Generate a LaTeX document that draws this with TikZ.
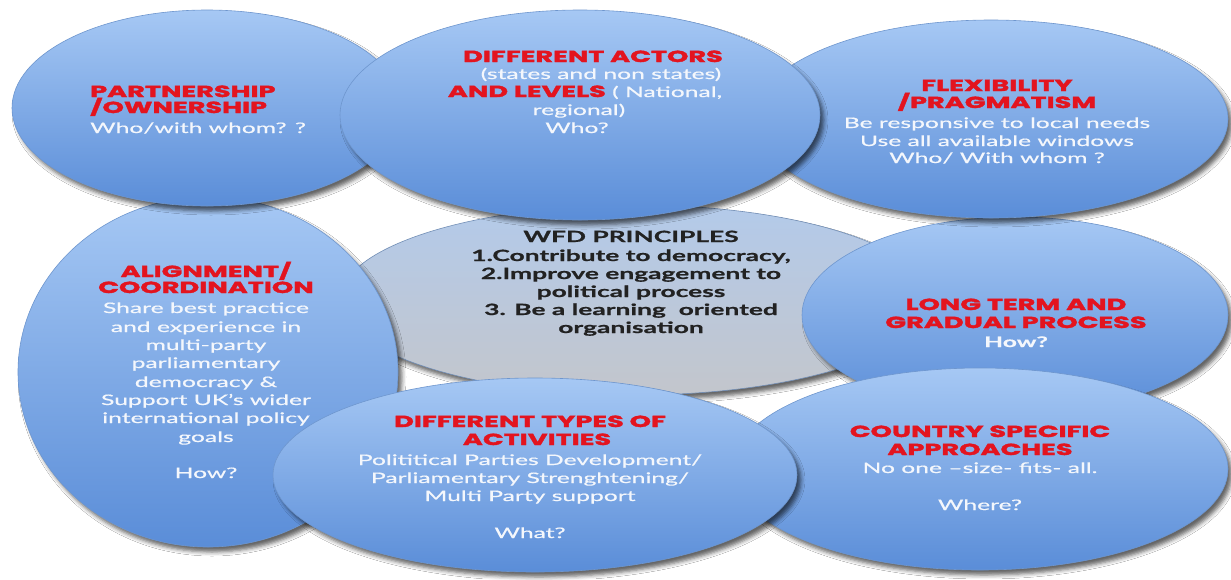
\documentclass[tikz,border=0pt]{standalone}
\usepackage{fontspec}
\usetikzlibrary{shapes.geometric,shadows.blur}
\newfontfamily\hdfont[FakeStretch=1.7,FakeBold=2.2]{Poppins}
\newfontfamily\bdfont[FakeStretch=1.7,FakeBold=0.6]{Lato}
\newfontfamily\wffont[FakeStretch=1.7,FakeBold=0.8]{Lato}
\definecolor{redt}{HTML}{E3141F}
\definecolor{whitet}{HTML}{F4F7FC}
\definecolor{darkt}{HTML}{222222}
\definecolor{elltop}{HTML}{A6C8F4}
\definecolor{ellbot}{HTML}{5A8DD8}
\definecolor{ellline}{HTML}{6E96CE}
\definecolor{wfdtop}{HTML}{B3CAEA}
\definecolor{wfdbot}{HTML}{C3C6CC}
\tikzset{
  bubble/.style={ellipse, inner sep=0pt, draw=ellline, line width=0.6pt,
    top color=elltop, bottom color=ellbot,
    blur shadow={shadow xshift=4pt, shadow yshift=-5pt, shadow blur radius=4pt, shadow opacity=60}},
  wfdbubble/.style={bubble, top color=wfdtop, bottom color=wfdbot, draw=ellline!70!gray},
  hd/.style={anchor=base, inner sep=0pt, text=redt, font=\hdfont\bfseries\fontsize{16}{16}\selectfont},
  bd/.style={anchor=base, inner sep=0pt, text=whitet, font=\bdfont\fontsize{14.5}{16}\selectfont},
  bdb/.style={bd, font=\bdfont\bfseries\fontsize{14.5}{16}\selectfont},
  wf/.style={anchor=base, inner sep=0pt, text=darkt, font=\wffont\bfseries\fontsize{15.5}{16}\selectfont},
}
\newcommand\redin[1]{{\hdfont\bfseries\fontsize{16}{16}\selectfont\color{redt}#1}}
\begin{document}
\begin{tikzpicture}[x=1pt,y=-1pt]
\fill[white] (0,0) rectangle (1231,579);
\useasboundingbox (0,0) rectangle (1231,579);
% bubbles, back to front
\node[wfdbubble, minimum width=590pt, minimum height=190pt] (wfd) at (635,300) {};
\node[bubble, minimum width=426pt, minimum height=196pt] (long) at (1015,315) {};
\node[bubble, minimum width=496pt, minimum height=202pt] (country) at (980,469) {};
\node[bubble, minimum width=380pt, minimum height=350pt] (align) at (208,372) {};
\node[bubble, minimum width=524pt, minimum height=194pt] (types) at (535,475) {};
\node[bubble, minimum width=474pt, minimum height=198pt] (flex) at (991,119) {};
\node[bubble, minimum width=390pt, minimum height=196pt] (part) at (207,108) {};
\node[bubble, minimum width=480pt, minimum height=210pt] (actors) at (580,115) {};
% partnership
\node[hd, anchor=base west] (p1) at (90,97) {PARTNERSHIP};
\node[hd, anchor=base west] (p2) at (90,113) {/OWNERSHIP};
\node[bd, anchor=base west] (p3) at (90,133) {Who/with whom? ?};
% actors
\node[hd] (a1) at (593,62) {DIFFERENT ACTORS};
\node[bd] (a2) at (601,79) {(states and non states)};
\node[bd] (a3) at (585,97) {\redin{AND LEVELS} ( National,};
\node[bd] (a4) at (579,115) {regional)};
\node[bd] (a5) at (577,133) {Who?};
% flexibility
\node[hd] (f1) at (997,91) {FLEXIBILITY};
\node[hd] (f2) at (997,108) {/PRAGMATISM};
\node[bd] (f3) at (997,128) {Be responsive to local needs};
\node[bd] (f4) at (997,146) {Use all available windows};
\node[bd] (f5) at (997,163) {Who/ With whom ?};
% WFD
\node[wf] (w1) at (631,242) {WFD PRINCIPLES};
\node[wf] (w2) at (631,261) {1.Contribute to democracy,};
\node[wf] (w3) at (631,279) {2.Improve engagement to};
\node[wf] (w4) at (631,297) {political process};
\node[wf] (w5) at (631,315) {3. Be a learning\ \ oriented};
\node[wf] (w6) at (631,333) {organisation};
% alignment
\node[hd] (l1) at (206,277) {ALIGNMENT/};
\node[hd] (l2) at (206,293) {COORDINATION};
\node[bd] (l3) at (206,313) {Share best practice};
\node[bd] (l4) at (206,332) {and experience in};
\node[bd] (l5) at (206,350) {multi-party};
\node[bd] (l6) at (206,368) {parliamentary};
\node[bd] (l7) at (206,387) {democracy \&};
\node[bd] (l8) at (206,405) {Support UK’s wider};
\node[bd] (l9) at (206,423) {international policy};
\node[bd] (l10) at (206,442) {goals};
\node[bd] (l11) at (206,478) {How?};
% long term
\node[hd] (t1) at (1016,310) {LONG TERM AND};
\node[hd] (t2) at (1016,328) {GRADUAL PROCESS};
\node[bdb] (t3) at (1016,347) {How?};
% types
\node[hd] (y1) at (530,427) {DIFFERENT TYPES OF};
\node[hd] (y2) at (537,445) {ACTIVITIES};
\node[bd] (y3) at (530,465) {Polititical Parties Development/};
\node[bd] (y4) at (530,483) {Parliamentary Strenghtening/};
\node[bd] (y5) at (530,501) {Multi Party support};
\node[bd] (y6) at (530,538) {What?};
% country
\node[hd] (c1) at (980,437) {COUNTRY SPECIFIC};
\node[hd] (c2) at (980,455) {APPROACHES};
\node[bd] (c3) at (980,473) {No one –size- fits- all.};
\node[bd] (c4) at (980,510) {Where?};
\end{tikzpicture}
\end{document}
